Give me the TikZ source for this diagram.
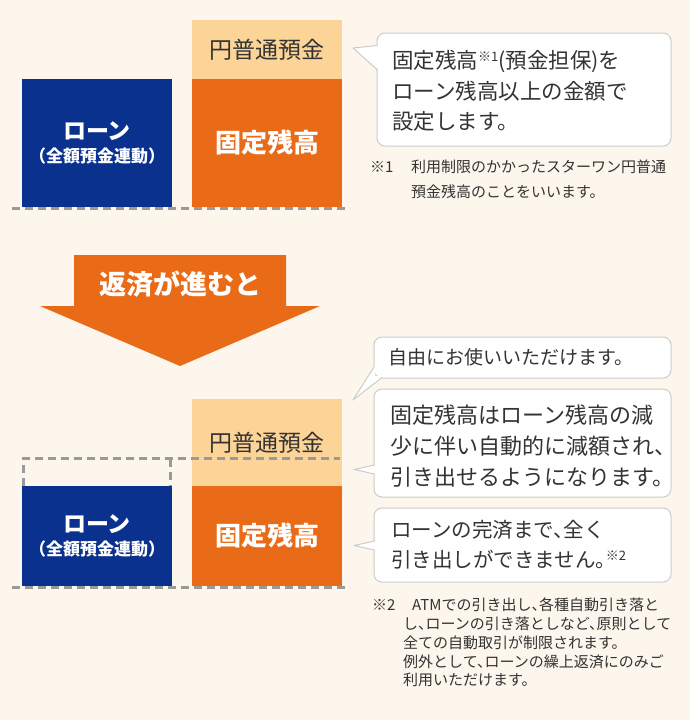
\documentclass[tikz,border=0pt]{standalone}
\usepackage{fontspec}
\setmainfont{Noto Sans CJK JP}
\newfontfamily\haltfont{Noto Sans CJK JP}[RawFeature=+halt]
\usepackage{tikz}
\usetikzlibrary{positioning,calc}
\definecolor{bgcream}{HTML}{FDF6EC}
\definecolor{loanblue}{HTML}{0B318F}
\definecolor{fixorange}{HTML}{EA6B17}
\definecolor{ordorange}{HTML}{FDD498}
\definecolor{dashgray}{HTML}{9A9A9A}
\definecolor{txtgray}{HTML}{333333}
\definecolor{linegray}{HTML}{CCCCCC}
\tikzset{
  loanbox/.style={fill=loanblue, text=white, minimum width=150pt, align=center, inner sep=0pt},
  fixbox/.style={fill=fixorange, text=white, minimum width=150pt, align=center, inner sep=0pt, font=\fontsize{26}{30}\selectfont\bfseries},
  ordbox/.style={fill=ordorange, text=txtgray, minimum width=150pt, align=center, inner sep=0pt, font=\fontsize{23}{28}\selectfont},
  dashline/.style={dashgray, line width=3pt, dash pattern=on 8pt off 5pt},
  callbox/.style={draw=linegray, line width=1pt, fill=white, rounded corners=8pt, minimum width=297pt, inner sep=0pt},
  callline/.style={draw=linegray, line width=1pt, line join=round},
  calltext/.style={anchor=west, align=left, text=txtgray, inner sep=0pt},
  notetext/.style={anchor=west, align=left, text=txtgray, inner sep=0pt, font=\haltfont\fontsize{15}{19}\selectfont}
}
\newcommand{\loanlabel}{{\fontsize{23}{31}\selectfont\bfseries ローン}\\[7pt]{\fontsize{17}{20}\selectfont\bfseries （全額預金連動）}}
\newcommand{\notemark}[1]{{\fontsize{13}{13}\selectfont\raisebox{7pt}{#1}}}

\begin{document}
\begin{tikzpicture}[x=1pt, y=-1pt]
      \useasboundingbox (0,0) rectangle (690,720);
      \fill[bgcream] (0,0) rectangle (690,720);
      % before repayment
      \node[loanbox, minimum height=128pt] (loanA) at (97,143) {\loanlabel};
      \node[ordbox, minimum height=59pt] (ordA) at (267,49.5) {円普通預金};
      \node[fixbox, minimum height=128pt] (fixA) at (267,143) {固定残高};
      \draw[dashline] (12,208) -- (350,208);
      \node[callbox, minimum width=294pt, minimum height=113pt] (noteA) at (524,89.5) {};
      \fill[white] (379,45) -- (353,48) -- (379,70) -- cycle;
      \draw[callline] (377.5,45.5) -- (353,48) -- (377.5,70);
      \node[calltext, font=\haltfont\fontsize{21.5}{30.5}\selectfont] (noteAtext) at (392,91) {固定残高\notemark{※1}(預金担保)を\\ローン残高以上の金額で\\設定します。};
      \node[notetext] (markA) at (370,167) {※1};
      \node[notetext, font=\haltfont\fontsize{15}{24.5}\selectfont] (footA) at (411,179.5) {利用制限のかかったスターワン円普通\\預金残高のことをいいます。};
      % arrow
      \fill[fixorange] (74,255) -- (286,255) -- (286,306) -- (320,306) -- (180,366) -- (40,306) -- (74,306) -- cycle;
      \node[text=white, font=\fontsize{27}{30}\selectfont\bfseries] (step) at (180,284) {返済が進むと};
      % after repayment
      \node[ordbox, minimum height=87pt] (ordB) at (267,442.5) {円普通預金};
      \node[fixbox, minimum height=100pt] (fixB) at (267,536) {固定残高};
      \node[loanbox, minimum height=100pt] (loanB) at (97,536) {\loanlabel};
      \draw[dashline] (23.5,486) -- (23.5,458.5) -- (340,458.5);
      \draw[dashline] (170.5,458.5) -- (170.5,486);
      \draw[dashline] (12,587) -- (350,587);
      \node[callbox, minimum height=41pt] (noteB) at (522.5,357.5) {};
      \node[callbox, minimum height=108pt] (noteC) at (522.5,443) {};
      \node[callbox, minimum height=74pt] (noteD) at (522.5,545) {};
      \fill[white] (375,366) -- (353,400) -- (383,376) -- (375,376) -- cycle;
      \draw[callline] (374,367) -- (353,400) -- (382,377.5);
      \fill[white] (376,465) -- (354,469.5) -- (376,474) -- cycle;
      \draw[callline] (374.5,465) -- (354,469.5) -- (374.5,474);
      \fill[white] (376,541) -- (354,545.5) -- (376,550) -- cycle;
      \draw[callline] (374.5,541) -- (354,545.5) -- (374.5,550);
      \node[calltext, font=\haltfont\fontsize{19}{24}\selectfont] (noteBtext) at (388,357) {自由にお使いいただけます。};
      \node[calltext, font=\haltfont\fontsize{22}{31}\selectfont] (noteCtext) at (390,446) {固定残高はローン残高の減\\少に伴い自動的に減額され、\\引き出せるようになります。};
      \node[calltext, font=\haltfont\fontsize{20.5}{30}\selectfont] (noteDtext) at (391,545) {ローンの完済まで、全く\\引き出しができません。\notemark{※2}};
      \node[notetext] (markB) at (372,605) {※2};
      \node[notetext, font=\haltfont\fontsize{15}{18.8}\selectfont] (footB) at (403,642.5) {\hspace*{9pt}ATMでの引き出し、各種自動引き落と\\し、ローンの引き落としなど、原則として\\全ての自動取引が制限されます。\\例外として、ローンの繰上返済にのみご\\利用いただけます。};
    \end{tikzpicture}
\end{document}
